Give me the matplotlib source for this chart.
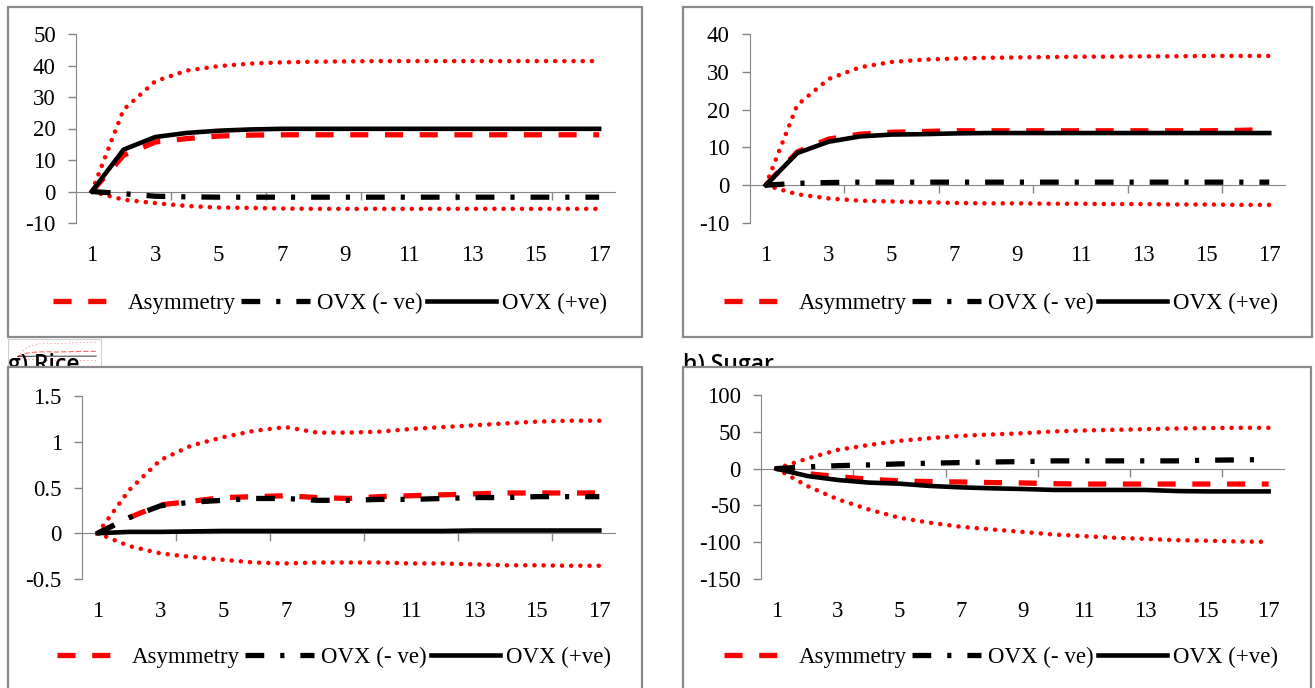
import matplotlib
matplotlib.use("Agg")
import matplotlib.pyplot as plt
from matplotlib.patches import Rectangle
from matplotlib.ticker import FuncFormatter

plt.rcParams['font.family'] = 'Liberation Serif'
plt.rcParams['axes.unicode_minus'] = False
plt.rcParams['lines.scale_dashes'] = False

periods = list(range(1, 18))
label_ticks = periods[::2]
mark_ticks = [3.5, 6.5, 9.5, 12.5, 15.5]
legend_labels = ['Asymmetry', 'OVX (- ve)', 'OVX (+ve)']

# top-left panel
tl_upper = [0, 26, 35, 38.4, 39.8, 40.6, 41, 41.2, 41.3, 41.4, 41.4, 41.4, 41.4, 41.4, 41.4, 41.4, 41.4]
tl_asym = [0, 11.5, 15.7, 16.8, 17.6, 17.9, 18, 18, 18, 18, 18, 18, 18, 18, 18, 18, 18]
tl_neg = [0, -0.7, -1.5, -1.7, -1.8, -1.8, -1.8, -1.8, -1.8, -1.8, -1.8, -1.8, -1.8, -1.8, -1.8, -1.8, -1.8]
tl_pos = [0, 13.3, 17.3, 18.6, 19.3, 19.7, 19.9, 19.9, 19.9, 19.9, 19.9, 19.9, 19.9, 19.9, 19.9, 19.9, 19.9]
tl_lower = [0, -2.6, -3.7, -4.6, -5.1, -5.2, -5.4, -5.5, -5.5, -5.5, -5.5, -5.5, -5.5, -5.5, -5.5, -5.5, -5.5]
tl_yticks = [-10, 0, 10, 20, 30, 40, 50]

# top-right panel
tr_upper = [0, 21.2, 28.1, 31.2, 32.6, 33.2, 33.5, 33.7, 33.8, 33.9, 34.0, 34.0, 34.1, 34.1, 34.2, 34.2, 34.2]
tr_asym = [0, 8.8, 12.2, 13.5, 14.0, 14.2, 14.4, 14.4, 14.4, 14.4, 14.4, 14.4, 14.4, 14.4, 14.4, 14.5, 14.7]
tr_neg = [0, 0.5, 0.7, 0.8, 0.8, 0.8, 0.8, 0.8, 0.8, 0.8, 0.8, 0.8, 0.8, 0.8, 0.8, 0.8, 0.8]
tr_pos = [0, 8.5, 11.5, 12.9, 13.4, 13.5, 13.7, 13.8, 13.8, 13.8, 13.8, 13.8, 13.8, 13.8, 13.8, 13.8, 13.8]
tr_lower = [0, -2.4, -3.5, -4.1, -4.3, -4.5, -4.7, -4.8, -4.8, -4.9, -4.9, -5.0, -5.0, -5.1, -5.1, -5.2, -5.2]
tr_yticks = [-10, 0, 10, 20, 30, 40]

# g) Rice
rice_upper = [0, 0.47, 0.80, 0.96, 1.05, 1.12, 1.16, 1.10, 1.10, 1.11, 1.14, 1.16, 1.18, 1.20, 1.22, 1.23, 1.23]
rice_asym = [0, 0.17, 0.31, 0.35, 0.39, 0.40, 0.41, 0.39, 0.38, 0.40, 0.41, 0.42, 0.43, 0.44, 0.44, 0.44, 0.44]
rice_neg = [0, 0.17, 0.30, 0.34, 0.36, 0.38, 0.38, 0.36, 0.36, 0.37, 0.37, 0.38, 0.39, 0.39, 0.40, 0.40, 0.40]
rice_pos = [0, 0.015, 0.015, 0.02, 0.025, 0.025, 0.025, 0.025, 0.025, 0.025, 0.025, 0.025, 0.03, 0.03, 0.03, 0.03, 0.03]
rice_lower = [0, -0.14, -0.22, -0.26, -0.29, -0.32, -0.33, -0.32, -0.32, -0.32, -0.33, -0.33, -0.34, -0.35, -0.35, -0.355, -0.355]
rice_yticks = [-0.5, 0, 0.5, 1, 1.5]

# h) Sugar
sugar_upper = [0, 13.6, 25.5, 32, 37.7, 41.4, 44.5, 46.4, 48, 50.5, 51.8, 52.7, 53.6, 54.5, 55, 55.5, 55.5]
sugar_asym = [0, -6.8, -11, -14.5, -16.8, -17.7, -18.2, -19, -19.5, -20.5, -21, -21, -21, -21, -21, -21, -21]
sugar_neg = [0, 2.3, 4, 5, 6.4, 7.3, 8.2, 9, 9.5, 10.5, 10.5, 10.5, 10.5, 10.5, 11.4, 11.8, 12.3]
sugar_pos = [0, -10, -15.5, -19, -20.5, -23.6, -25.5, -26.8, -27.7, -29, -29, -29, -29, -30.5, -31, -31, -31]
sugar_lower = [0, -23.6, -41.8, -55.5, -66.8, -73.6, -79, -82.7, -86, -89.5, -91.8, -94, -95.5, -97.3, -98, -99, -99.5]
sugar_yticks = [-150, -100, -50, 0, 50, 100]

W, H = 1315, 688
GRAY = '#868686'
BOX = '#8a8a8a'
RED = '#ff0000'
FS = 16.5

fig = plt.figure(figsize=(W / 100, H / 100), dpi=100)


def fig_rect(x0, y0, x1, y1):
    return [x0 / W, 1 - y1 / H, (x1 - x0) / W, (y1 - y0) / H]


def draw_box(x0, y0, x1, y1):
    r = fig_rect(x0, y0, x1, y1)
    fig.patches.append(Rectangle((r[0], r[1]), r[2], r[3], transform=fig.transFigure,
                                 facecolor='white', edgecolor=BOX, linewidth=1.6, zorder=-1))


def panel(rect, upper, asym, neg, pos, lower, yticks, legend_center):
    ax = fig.add_axes(fig_rect(*rect))
    ax.set_facecolor('none')
    dotted = (0, (0.01, 6.6))
    ax.plot(periods, upper, color=RED, lw=3.3, linestyle=dotted,
            dash_capstyle='round', zorder=3)
    ax.plot(periods, lower, color=RED, lw=3.3, linestyle=dotted,
            dash_capstyle='round', zorder=3)
    h1, = ax.plot(periods, asym, color=RED, lw=3.8, linestyle=(0, (13, 12)), zorder=3)
    h2, = ax.plot(periods, neg, color='black', lw=3.8,
                  linestyle=(0, (13.5, 11.5, 3, 11.5)), zorder=3)
    h3, = ax.plot(periods, pos, color='black', lw=3.3, zorder=4)

    ax.set_xlim(0.5, 17.5)
    ax.set_ylim(yticks[0], yticks[-1])
    ax.set_yticks(yticks)
    ax.yaxis.set_major_formatter(FuncFormatter(lambda v, p: '%g' % v))
    for s in ['top', 'right']:
        ax.spines[s].set_visible(False)
    ax.spines['left'].set_color(GRAY)
    ax.spines['bottom'].set_color(GRAY)
    ax.spines['bottom'].set_position(('data', 0))
    ax.tick_params(axis='y', length=6, width=1, color=GRAY, direction='out', pad=8.5,
                   labelsize=FS)
    ax.set_xticks(mark_ticks)
    ax.tick_params(axis='x', length=6, width=1, color=GRAY, direction='out',
                   labelbottom=False)

    sec = ax.secondary_xaxis('bottom')
    sec.set_xticks(label_ticks)
    sec.tick_params(length=0, pad=15.5, labelsize=FS)
    sec.spines['bottom'].set_visible(False)

    lx, ly = legend_center
    ax.legend([h1, h2, h3], legend_labels, loc='center',
              bbox_to_anchor=(lx / W, 1 - ly / H), bbox_transform=fig.transFigure,
              ncol=3, frameon=False, fontsize=FS, handlelength=3.0,
              handletextpad=0.3, columnspacing=0.2, borderpad=0)
    return ax


# panel frames
draw_box(8, 7, 642, 337)
draw_box(683, 7, 1312, 337)
draw_box(8, 367, 642, 720)
draw_box(683, 367, 1311, 720)

# small thumbnail next to the Rice caption
thumb = fig.add_axes(fig_rect(8, 339, 101, 367))
thumb.set_zorder(-3)
thumb.plot(periods, rice_upper, color=RED, lw=0.6, ls=':', alpha=0.45)
thumb.plot(periods, rice_lower, color=RED, lw=0.6, ls=':', alpha=0.45)
thumb.plot(periods, rice_asym, color=RED, lw=0.8, ls='--', alpha=0.6)
thumb.plot(periods, rice_pos, color='black', lw=0.8, alpha=0.7)
thumb.set_xlim(-1, 18)
thumb.set_ylim(-0.9, 1.5)
thumb.set_xticks([])
thumb.set_yticks([])
for s in thumb.spines.values():
    s.set_color('#d0d0d0')
    s.set_linewidth(0.8)

fig.text(8 / W, 1 - 371 / H, 'g) Rice', family='Open Sans', weight='semibold',
         fontsize=16.5, va='baseline', ha='left', zorder=-2)
fig.text(683 / W, 1 - 371 / H, 'h) Sugar', family='Open Sans', weight='semibold',
         fontsize=16.5, va='baseline', ha='left', zorder=-2)

panel((76, 34, 615, 223), tl_upper, tl_asym, tl_neg, tl_pos, tl_lower, tl_yticks, (330, 303))
panel((750, 34, 1285, 223), tr_upper, tr_asym, tr_neg, tr_pos, tr_lower, tr_yticks, (1001, 303))
panel((82, 396, 615, 579), rice_upper, rice_asym, rice_neg, rice_pos, rice_lower,
      rice_yticks, (334, 657))
panel((761, 395, 1284, 579), sugar_upper, sugar_asym, sugar_neg, sugar_pos, sugar_lower,
      sugar_yticks, (1001, 657))

fig.savefig('out.png', dpi=100, facecolor='white')
